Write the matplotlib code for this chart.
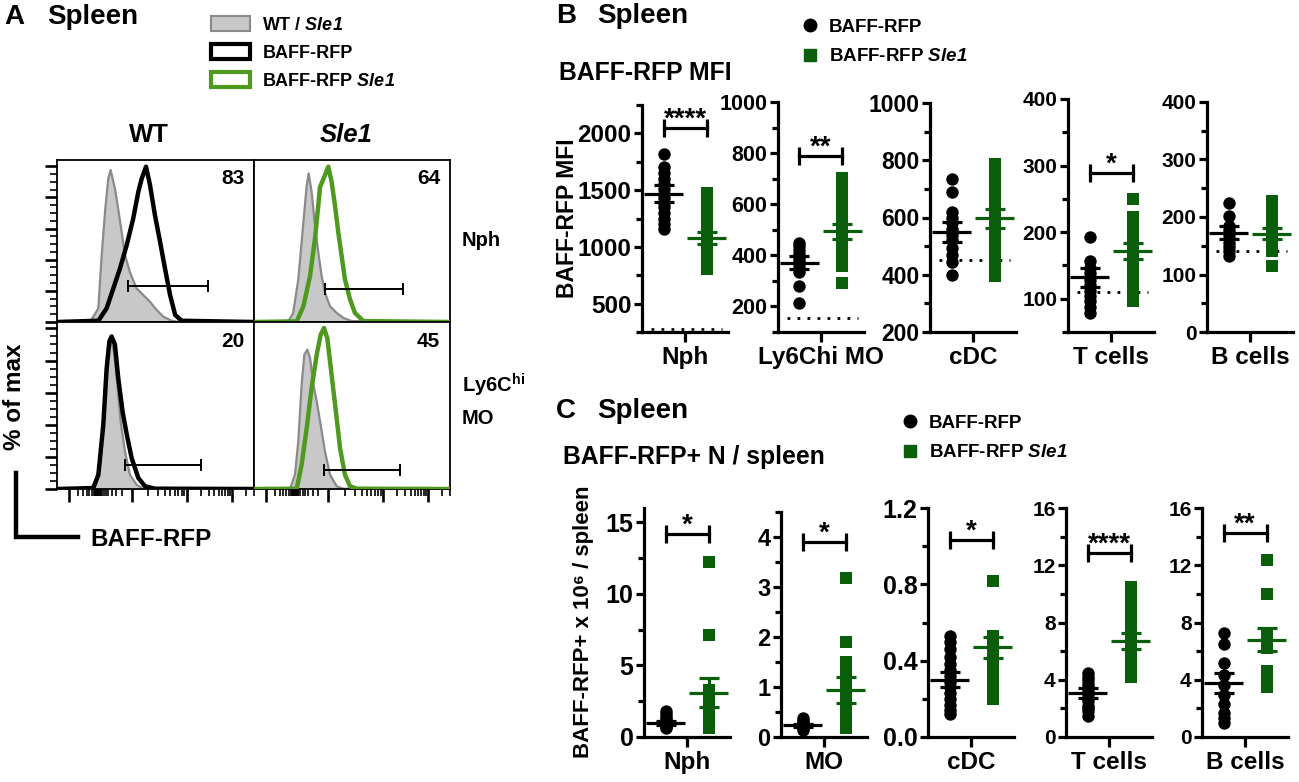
import numpy as np
import matplotlib
matplotlib.use('Agg')
import matplotlib.pyplot as plt
from matplotlib.patches import Patch
from matplotlib.lines import Line2D
from matplotlib.ticker import MultipleLocator, FormatStrFormatter

plt.rcParams['font.family'] = ['Liberation Sans', 'DejaVu Sans']
plt.rcParams['font.weight'] = 'bold'
plt.rcParams['mathtext.fontset'] = 'custom'
# digits inside \mathit fall back to rm, so rm is italic too (Sle1)
plt.rcParams['mathtext.rm'] = 'Liberation Sans:italic:bold'
plt.rcParams['mathtext.it'] = 'Liberation Sans:italic:bold'
plt.rcParams['mathtext.sf'] = 'Liberation Sans:bold'
plt.rcParams['mathtext.bf'] = 'Liberation Sans:bold'

GREEN = '#0b5e0b'
HGREEN = '#4f9a1e'
GRAY_FILL = '#c8c8c8'
GRAY_EDGE = '#8a8a8a'

# ---- panel A: flow histograms (x = % of panel width, y = % of max) ----
tl_gray_x = [0, 16.8, 21.0, 22.7, 24.4, 26.0, 27.2, 29.4, 31.0, 32.8, 34.5, 37.0, 40.4, 43.8, 47.2, 50.6, 54.0, 58.0, 62.0, 100]
tl_gray_y = [0, 0, 8.8, 43, 71, 92, 97.6, 85.8, 73, 58, 43, 32, 21.6, 17.3, 13, 7.7, 3.4, 0.9, 0, 0]
tl_line_x = [0, 21.0, 25.2, 28.6, 32.0, 35.4, 38.7, 41.3, 43.0, 45.2, 47.2, 49.7, 52.3, 54.8, 57.4, 60.0, 63.3, 100]
tl_line_y = [0, 0.8, 8.8, 21.6, 34.5, 49.4, 66.5, 83.7, 92, 99.7, 88, 68.7, 51.6, 34.5, 17.3, 4.5, 0.8, 0]

tr_gray_x = [0, 17.5, 20.0, 22.6, 25.2, 26.9, 27.9, 29.4, 31.1, 32.8, 34.5, 36.2, 38.8, 42.2, 45.6, 49.8, 100]
tr_gray_y = [0, 0.4, 5.8, 27.4, 64, 87.8, 95.4, 83.5, 62, 44.7, 29.6, 18.8, 10.1, 5.8, 2.6, 0.6, 0]
tr_line_x = [0, 21.8, 25.2, 28.6, 31.1, 32.8, 33.7, 36.2, 37.9, 39.6, 41.3, 43.0, 44.7, 46.4, 49.0, 51.5, 55.8, 100]
tr_line_y = [0, 0.4, 10.1, 29.6, 53.3, 74.9, 86.7, 94.3, 99.7, 90, 74.9, 57.6, 42.5, 27.4, 14.5, 5.8, 0.6, 0]

bl_gray_x = [0, 16.8, 20.1, 22.7, 24.4, 26.0, 27.2, 28.9, 30.6, 32.3, 34.5, 37.0, 40.4, 43.8, 100]
bl_gray_y = [0, 0, 4.8, 27.6, 65, 90, 94, 85.7, 65, 42, 23.5, 8.9, 2.7, 0, 0]
bl_line_x = [0, 18.4, 21.0, 23.5, 25.2, 26.6, 27.7, 29.4, 31.1, 33.3, 35.4, 37.9, 41.3, 44.7, 49.7, 100]
bl_line_y = [0, 0.6, 8.9, 40, 75, 92, 95, 90, 69, 48, 34, 19.3, 6.8, 1.7, 0.2, 0]

br_gray_x = [0, 18.4, 20.9, 22.6, 24.3, 25.7, 27.2, 28.6, 30.3, 32.0, 34.0, 36.2, 38.8, 42.2, 45.6, 100]
br_gray_y = [0, 0.2, 8.9, 29.7, 65, 83.7, 86.8, 81.6, 65, 54.6, 40, 23.5, 8.9, 1.7, 0.2, 0]
br_line_x = [0, 21.8, 24.3, 26.9, 29.4, 32.0, 34.0, 35.7, 37.4, 39.6, 41.8, 43.9, 46.4, 49.0, 52.4, 100]
br_line_y = [0, 0.2, 15.2, 38, 63, 83.7, 96, 100.3, 94, 71, 48, 25.5, 8.9, 1.7, 0.2, 0]

# gates: start, end, height ; percent positive
tl_gate = [36.2, 76.5, 23.0]
tr_gate = [36.2, 75.9, 21.4]
bl_gate = [34.5, 73.0, 15.2]
br_gate = [35.7, 74.5, 12.0]
gate_pct = ['83', '64', '20', '45']

# ---- panel B: BAFF-RFP MFI ----
b_cells = ['Nph', 'Ly6Chi MO', 'cDC', 'T cells', 'B cells']
b_wt = [
    [1817, 1700, 1650, 1600, 1550, 1510, 1470, 1430, 1390, 1350, 1300, 1250, 1200, 1154],
    [449, 435, 420, 405, 392, 380, 365, 350, 335, 281, 215],
    [736, 690, 620, 600, 580, 560, 540, 520, 495, 470, 445, 398],
    [193, 156, 146, 138, 128, 120, 112, 104, 96, 88, 79],
    [224, 201, 185, 178, 170, 163, 155, 147, 140, 132],
]
b_sle = [
    [1477, 1440, 1380, 1320, 1259, 1200, 1150, 1100, 1050, 1000, 950, 900, 850, 805],
    [703, 660, 645, 600, 559, 520, 500, 470, 440, 400, 360, 293],
    [788, 745, 720, 700, 680, 660, 640, 620, 600, 580, 560, 540, 510, 470, 440, 420, 395],
    [250, 222, 210, 198, 188, 178, 168, 158, 148, 135, 122, 112, 96],
    [227, 210, 200, 192, 183, 175, 168, 160, 150, 140, 114],
]
b_mean_wt = [1468, 371, 551, 132, 173]
b_sem_wt = [75, 25, 35, 14, 11]
b_mean_sle = [1076, 494, 597, 172, 171]
b_sem_sle = [52, 29, 32, 12, 10]
b_background = [280, 155, 450, 110, 140]
b_sig = ['****', '**', '', '*', '']
b_sig_y = [2050, 790, 0, 289, 0]

# ---- panel C: BAFF-RFP+ cells x 10^6 / spleen ----
c_cells = ['Nph', 'MO', 'cDC', 'T cells', 'B cells']
c_wt = [
    [1.85, 1.6, 1.4, 1.25, 1.1, 1.0, 0.9, 0.8, 0.7, 0.6],
    [0.38, 0.33, 0.3, 0.27, 0.24, 0.21, 0.18, 0.15],
    [0.53, 0.5, 0.46, 0.42, 0.38, 0.35, 0.32, 0.29, 0.26, 0.23, 0.2, 0.17, 0.14, 0.12],
    [4.5, 4.2, 4.0, 3.7, 3.5, 3.2, 3.0, 2.7, 2.5, 2.2, 2.0, 1.8, 1.5],
    [7.3, 6.5, 5.2, 4.3, 3.6, 2.9, 2.3, 1.7, 1.3, 1.0],
]
c_sle = [
    [12.2, 7.1, 3.3, 2.9, 2.6, 2.3, 2.0, 1.7, 1.4, 1.1, 0.8, 0.6],
    [3.18, 1.9, 1.5, 1.4, 1.25, 1.1, 0.95, 0.8, 0.65, 0.5, 0.35, 0.18],
    [0.82, 0.53, 0.5, 0.47, 0.44, 0.41, 0.38, 0.35, 0.32, 0.29, 0.26, 0.23, 0.2],
    [10.5, 10.1, 9.6, 9.0, 8.4, 7.8, 7.2, 6.6, 6.0, 5.5, 5.0, 4.6, 4.2],
    [12.4, 10.0, 7.2, 6.9, 6.5, 6.2, 4.6, 4.0, 3.5],
]
c_mean_wt = [0.98, 0.24, 0.30, 3.05, 3.8]
c_sem_wt = [0.15, 0.03, 0.04, 0.35, 0.7]
c_mean_sle = [3.1, 0.94, 0.47, 6.7, 6.8]
c_sem_sle = [1.0, 0.26, 0.055, 0.55, 0.8]
c_sig = ['*', '*', '*', '****', '**']
c_sig_y = [14.15, 3.9, 1.03, 12.85, 14.25]

W, H = 1299, 782
fig = plt.figure(figsize=(W / 100, H / 100), dpi=100)


def place(l, t, r, b):
    return fig.add_axes([l / W, 1 - b / H, (r - l) / W, (b - t) / H])


def ftext(x, y, s, **kw):
    kw.setdefault('va', 'center')
    return fig.text(x / W, 1 - y / H, s, **kw)


# ================= panel A =================
ftext(4, 17, 'A', fontsize=20)
ftext(47, 17, 'Spleen', fontsize=20)
ftext(149, 135, 'WT', fontsize=18.5, ha='center')
ftext(346, 135, 'Sle1', fontsize=18.5, ha='center', style='italic')

hist_panels = [
    ((57, 160, 254, 322), tl_gray_x, tl_gray_y, tl_line_x, tl_line_y, 'black', tl_gate),
    ((254, 160, 450, 322), tr_gray_x, tr_gray_y, tr_line_x, tr_line_y, HGREEN, tr_gate),
    ((57, 322, 254, 489), bl_gray_x, bl_gray_y, bl_line_x, bl_line_y, 'black', bl_gate),
    ((254, 322, 450, 489), br_gray_x, br_gray_y, br_line_x, br_line_y, HGREEN, br_gate),
]
hx_major = [6, 38, 66, 89]
hx_minor = ([6 + 15 * np.log10(k) for k in range(2, 10)]
            + [38 - 17 * np.log10(k) for k in range(2, 10)]
            + list(np.arange(19.5, 23.0, 0.5))
            + [38 + 28 * np.log10(k) for k in range(2, 10)]
            + [66 + 23 * np.log10(k) for k in range(2, 10)]
            + [89 + 23 * np.log10(k) for k in range(2, 4)])

for i, (bx, gx, gy, lx, ly, col, gate) in enumerate(hist_panels):
    ax = place(*bx)
    ax.fill_between(gx, gy, 0, color=GRAY_FILL, lw=0, zorder=1)
    ax.plot(gx, gy, color=GRAY_EDGE, lw=1.6, zorder=2)
    ax.plot(lx, ly, color=col, lw=3.2, zorder=3, solid_joinstyle='round')
    ax.plot(gate[:2], [gate[2], gate[2]], color='black', lw=1.4,
            marker='|', ms=8, mew=1.4, zorder=4)
    ax.text(95, 92, gate_pct[i], ha='right', va='center', fontsize=15)
    ax.set_xlim(0, 100)
    ax.set_ylim(0, 104)
    for s in ax.spines.values():
        s.set_linewidth(1.3)
    if i in (0, 2):
        ax.set_yticks([0, 20, 40, 60, 80, 100])
        ax.set_yticks([v for v in range(5, 101, 5) if v % 20], minor=True)
        ax.tick_params(axis='y', which='major', length=9, width=1.9, labelleft=False)
        ax.tick_params(axis='y', which='minor', length=5, width=1.2)
    else:
        ax.set_yticks([])
    if i in (2, 3):
        ax.set_xticks(hx_major)
        ax.set_xticks(hx_minor, minor=True)
        ax.tick_params(axis='x', which='major', length=9, width=1.9, labelbottom=False)
        ax.tick_params(axis='x', which='minor', length=5, width=1.2)
    else:
        ax.set_xticks([])

ftext(462, 241, 'Nph', fontsize=14.5)
ftext(462, 385, 'Ly6C$^{\\mathsf{hi}}$', fontsize=14.5)
ftext(462, 418, 'MO', fontsize=14.5)
ftext(15, 397, '% of max', fontsize=17.5, rotation=90, ha='center')
ftext(90, 539, 'BAFF-RFP', fontsize=17.5)
fig.add_artist(Line2D([16 / W, 16 / W, 78 / W], [1 - 473 / H, 1 - 537 / H, 1 - 537 / H],
                      color='black', lw=3.2, solid_joinstyle='miter'))

fig.legend(handles=[Patch(facecolor=GRAY_FILL, edgecolor=GRAY_EDGE, lw=1.5),
                    Patch(facecolor='white', edgecolor='black', lw=3),
                    Patch(facecolor='white', edgecolor=HGREEN, lw=3)],
           labels=['WT / $\\mathit{Sle1}$', 'BAFF-RFP', 'BAFF-RFP $\\mathit{Sle1}$'],
           loc='center left', bbox_to_anchor=(211 / W, 1 - 53 / H), frameon=False,
           borderpad=0, borderaxespad=0, handlelength=2.15, handleheight=0.9,
           handletextpad=0.7, labelspacing=0.55, prop={'size': 13, 'weight': 'bold'})


# ================= panels B and C =================
def dot_panel(ax, wt, sle, m_wt, s_wt, m_sle, s_sle, label, tsize):
    ax.scatter(np.full(len(wt), 1.0), wt, s=80, marker='o', color='black', lw=0, zorder=3)
    ax.scatter(np.full(len(sle), 2.0), sle, s=74, marker='s', color=GREEN, lw=0, zorder=3)
    ax.hlines(m_wt, 0.55, 1.45, color='black', lw=2.3, zorder=4)
    ax.hlines(m_sle, 1.55, 2.45, color=GREEN, lw=2.3, zorder=4)
    ax.errorbar(1, m_wt, yerr=s_wt, fmt='none', ecolor='black', elinewidth=2.3,
                capsize=7, capthick=2.3, zorder=4)
    ax.errorbar(2, m_sle, yerr=s_sle, fmt='none', ecolor=GREEN, elinewidth=2.3,
                capsize=7, capthick=2.3, zorder=4)
    ax.set_xlim(0.5, 2.5)
    ax.set_xticks([1.5])
    ax.set_xticklabels([label])
    ax.spines[['top', 'right']].set_visible(False)
    ax.spines[['left', 'bottom']].set_linewidth(2.3)
    ax.tick_params(axis='x', length=7, width=2.3, labelsize=17.5, pad=3)
    ax.tick_params(axis='y', which='major', length=6, width=2.3, labelsize=tsize, pad=1.5)
    ax.tick_params(axis='y', which='minor', length=4, width=2.3)


def bracket(ax, y, stars):
    if not stars:
        return
    ax.plot([1, 2], [y, y], color='black', lw=2.3, marker='|', ms=13, mew=2.3, zorder=5)
    ax.annotate(stars, (1.5, y), xytext=(0, 1), textcoords='offset points',
                ha='center', va='baseline', fontsize=20)


# B layout
ftext(556, 16, 'B', fontsize=20)
ftext(597, 16, 'Spleen', fontsize=20)
ftext(559, 73, 'BAFF-RFP MFI', fontsize=17.8)
ftext(567, 218, 'BAFF-RFP MFI', fontsize=16.5, rotation=90, ha='center')

b_left = [642, 778, 930, 1068, 1207]
b_top = [105, 102, 103, 99, 102]
b_ylim = [(250, 2250), (100, 1000), (200, 1000), (50, 400), (0, 400)]
b_major = [[500, 1000, 1500, 2000], [200, 400, 600, 800, 1000], [200, 400, 600, 800, 1000],
           [100, 200, 300, 400], [0, 100, 200, 300, 400]]
b_minor = [250, 100, 100, 50, 50]
b_tsize = [17.5, 15.5, 16.5, 15, 15]
for k in range(5):
    ax = place(b_left[k], b_top[k], b_left[k] + 86, 332)
    dot_panel(ax, b_wt[k], b_sle[k], b_mean_wt[k], b_sem_wt[k],
              b_mean_sle[k], b_sem_sle[k], b_cells[k], b_tsize[k])
    ax.hlines(b_background[k], 0.7, 2.35, color='black', lw=2, linestyles=(0, (1, 2.6)), zorder=2)
    ax.set_ylim(*b_ylim[k])
    ax.set_yticks(b_major[k])
    ax.yaxis.set_minor_locator(MultipleLocator(b_minor[k]))
    bracket(ax, b_sig_y[k], b_sig[k])

fig.legend(handles=[Line2D([], [], marker='o', color='black', ls='none', ms=9),
                    Line2D([], [], marker='s', color=GREEN, ls='none', ms=9)],
           labels=['BAFF-RFP', 'BAFF-RFP $\\mathit{Sle1}$'],
           loc='center left', bbox_to_anchor=(801 / W, 1 - 42 / H), frameon=False,
           borderpad=0, borderaxespad=0, handlelength=1.0, handletextpad=0.5,
           labelspacing=0.65, prop={'size': 13.5, 'weight': 'bold'})

# C layout
ftext(556, 411, 'C', fontsize=20)
ftext(597, 411, 'Spleen', fontsize=20)
ftext(563, 457, 'BAFF-RFP+ N / spleen', fontsize=17.8)
ftext(584, 622, 'BAFF-RFP+ x 10⁶ / spleen', fontsize=16, rotation=90, ha='center')

c_left = [644, 781, 928, 1066, 1202]
c_top = [508, 512, 508, 508, 508]
c_ylim = [(0, 16), (0, 4.5), (0, 1.2), (0, 16), (0, 16)]
c_major = [[0, 5, 10, 15], [0, 1, 2, 3, 4], [0, 0.4, 0.8, 1.2], [0, 4, 8, 12, 16], [0, 4, 8, 12, 16]]
c_minor = [2.5, 0.5, 0.2, 2, 2]
c_tsize = [18, 17, 18, 15, 15]
for k in range(5):
    ax = place(c_left[k], c_top[k], c_left[k] + 86, 737)
    dot_panel(ax, c_wt[k], c_sle[k], c_mean_wt[k], c_sem_wt[k],
              c_mean_sle[k], c_sem_sle[k], c_cells[k], c_tsize[k])
    ax.set_ylim(*c_ylim[k])
    ax.set_yticks(c_major[k])
    ax.yaxis.set_minor_locator(MultipleLocator(c_minor[k]))
    if k == 2:
        ax.yaxis.set_major_formatter(FormatStrFormatter('%.1f'))
    bracket(ax, c_sig_y[k], c_sig[k])

fig.legend(handles=[Line2D([], [], marker='o', color='black', ls='none', ms=9),
                    Line2D([], [], marker='s', color=GREEN, ls='none', ms=9)],
           labels=['BAFF-RFP', 'BAFF-RFP $\\mathit{Sle1}$'],
           loc='center left', bbox_to_anchor=(901 / W, 1 - 438 / H), frameon=False,
           borderpad=0, borderaxespad=0, handlelength=1.0, handletextpad=0.5,
           labelspacing=0.65, prop={'size': 13.5, 'weight': 'bold'})

fig.savefig('out.png', dpi=100)
